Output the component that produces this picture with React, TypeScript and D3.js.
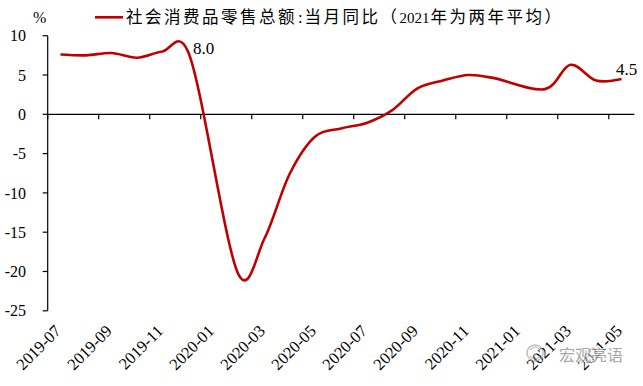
import React from "react";
import * as d3 from "d3";

const months = [
  "2019-07", "2019-08", "2019-09", "2019-10", "2019-11", "2019-12",
  "2020-01", "2020-02", "2020-03", "2020-04", "2020-05", "2020-06",
  "2020-07", "2020-08", "2020-09", "2020-10", "2020-11", "2020-12",
  "2021-01", "2021-02", "2021-03", "2021-04", "2021-05",
];
const retailYoY: (number | null)[] = [
  7.6, 7.5, 7.8, 7.2, 8.0, 8.0,
  null, -20.5, -15.8, -7.5, -2.8, -1.8,
  -1.1, 0.5, 3.3, 4.3, 5.0, 4.6,
  null, 3.2, 6.3, 4.3, 4.5,
];
const yTicks = [10, 5, 0, -5, -10, -15, -20, -25];
const labelledMonths = ["2019-12", "2021-05"];
const seriesName = "社会消费品零售总额";
const legendMid = "当月同比（";
const legendYear = "2021";
const legendTail = "年为两年平均）";
const watermark = "宏观亮语";

const W = 643;
const H = 386;
const serif = "'Liberation Serif', 'Times New Roman', serif";
const cjk = "'Noto Sans CJK SC', 'Liberation Serif', serif";
const red = "#c00000";

export default function App() {
  const x = d3.scaleBand<string>().domain(months).range([47.7, 634.3]).padding(0);
  const y = d3.scaleLinear().domain([-25, 10]).range([310.8, 35.7]);
  const cx = (m: string) => (x(m) as number) + x.bandwidth() / 2;

  const pts = months
    .map((m, i) => ({ m, v: retailYoY[i] }))
    .filter((d) => d.v !== null) as { m: string; v: number }[];

  const line = d3
    .line<{ m: string; v: number }>()
    .x((d) => cx(d.m))
    .y((d) => y(d.v))
    .curve(d3.curveCatmullRom.alpha(0.15));

  const x0 = x.range()[0];
  const x1 = x.range()[1];
  const yZero = y(0);

  const tickMonths = months.filter((_, i) => i % 2 === 0);

  return (
    <div style={{ position: "absolute", left: 0, top: 0 }}>
      <svg width={W} height={H} style={{ display: "block", background: "#fff" }}>
        <rect width={W} height={H} fill="#fff" />
        {/* y axis */}
        <line x1={x0} x2={x0} y1={y(10)} y2={y(-25)} stroke="#000" strokeWidth={1.2} />
        {yTicks.map((t) => (
          <g key={t}>
            <line x1={x0 - 5} x2={x0} y1={y(t)} y2={y(t)} stroke="#000" strokeWidth={1.2} />
            <text
              x={26}
              y={y(t)}
              dy="0.35em"
              textAnchor="end"
              fontFamily={serif}
              fontSize={16}
              fill="#000"
            >
              {t}
            </text>
          </g>
        ))}
        {/* x axis at zero */}
        <line x1={x0} x2={x1} y1={yZero} y2={yZero} stroke="#000" strokeWidth={1.2} />
        {tickMonths.map((m) => (
          <line
            key={m}
            x1={x(m) as number}
            x2={x(m) as number}
            y1={yZero}
            y2={yZero + 5}
            stroke="#000"
            strokeWidth={1.2}
          />
        ))}
        {tickMonths.map((m) => (
          <text
            key={"l" + m}
            transform={`translate(${cx(m) + 1.5},332) rotate(-45)`}
            textAnchor="end"
            fontFamily={serif}
            fontSize={16.5}
            fill="#000"
          >
            {m}
          </text>
        ))}
        {/* series */}
        <path d={line(pts) as string} fill="none" stroke={red} strokeWidth={2.6} strokeLinejoin="round" />
        {pts
          .filter((d) => labelledMonths.includes(d.m))
          .map((d, i) =>
            i === 0 ? (
              <text
                key={d.m}
                x={cx(d.m) + 5}
                y={y(d.v) - 3}
                dy="0.35em"
                fontFamily={serif}
                fontSize={17}
                fill="#000"
              >
                {d.v.toFixed(1)}
              </text>
            ) : (
              <text
                key={d.m}
                x={cx(d.m) - 5.5}
                y={y(d.v) - 10}
                dy="0.35em"
                fontFamily={serif}
                fontSize={17}
                fill="#000"
              >
                {d.v.toFixed(1)}
              </text>
            )
          )}
        {/* unit */}
        <text x={33} y={23} fontFamily={serif} fontSize={16} fill="#000">
          %
        </text>
        {/* legend */}
        <line x1={95} x2={123} y1={17.3} y2={17.3} stroke={red} strokeWidth={2.6} />
        <text x={126} y={23} fill="#000" fontSize={16.5}>
          <tspan fontFamily={cjk} letterSpacing={2.5}>{seriesName}</tspan>
          <tspan fontFamily={serif} dx={1}>:</tspan>
          <tspan fontFamily={cjk} letterSpacing={2.5} dx={2}>{legendMid}</tspan>
          <tspan fontFamily={serif} fontSize={15}>{legendYear}</tspan>
          <tspan fontFamily={cjk} letterSpacing={2.5} dx={1}>{legendTail}</tspan>
        </text>
        {/* watermark */}
        <g opacity={0.75}>
          <circle cx={535} cy={353} r={8} fill="none" stroke="#aaa" strokeWidth={1.5} />
          <path d="M530,350 q5,-6 10,0 M530,356 q5,6 10,0" fill="none" stroke="#aaa" strokeWidth={1.2} />
          <text
            x={559}
            y={355}
            dy="0.35em"
            fontFamily={cjk}
            fontSize={16}
            fill="#8a8a8a"
            stroke="#fff"
            strokeWidth={2}
            paintOrder="stroke"
          >
            {watermark}
          </text>
        </g>
      </svg>
    </div>
  );
}
